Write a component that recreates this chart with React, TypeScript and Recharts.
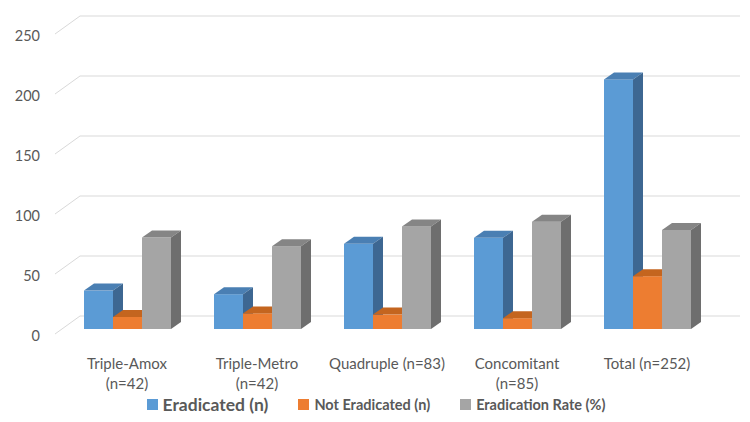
import React from 'react';
import { BarChart, Bar, XAxis, YAxis, CartesianGrid, Legend } from 'recharts';

const categories = ['Triple-Amox (n=42)', 'Triple-Metro (n=42)', 'Quadruple (n=83)', 'Concomitant (n=85)', 'Total (n=252)'];
const eradicated = [32, 29, 71, 76, 208];
const notEradicated = [10, 13, 12, 9, 44];
const eradicationRate = [76.2, 69.0, 85.5, 89.4, 82.5];
const yTicks = [0, 50, 100, 150, 200, 250];

const SERIES = [
  { key: 'eradicated', name: 'Eradicated (n)', front: '#5b9bd5', top: '#4a7fb3', side: '#3d6792', size: 17.5 },
  { key: 'notEradicated', name: 'Not Eradicated (n)', front: '#ed7d31', top: '#c4651f', side: '#b05a1c', size: 14.5 },
  { key: 'rate', name: 'Eradication Rate (%)', front: '#a5a5a5', top: '#858585', side: '#6e6e6e', size: 14.5 },
];

const data = categories.map((name, i) => ({
  name,
  eradicated: eradicated[i],
  notEradicated: notEradicated[i],
  rate: eradicationRate[i],
}));

const FONT = 'Lato, "Open Sans", sans-serif';
const DX = 10;
const DY = -7;

// front face + top + right side, to fake Excel's 3D columns
const Bar3D = (props: any) => {
  const { x, y, width, height, front, top, side } = props;
  if (!height || height <= 0) return null;
  return (
    <g>
      <rect x={x} y={y} width={width} height={height} fill={front} />
      <polygon
        points={`${x},${y} ${x + DX},${y + DY} ${x + width + DX},${y + DY} ${x + width},${y}`}
        fill={top}
      />
      <polygon
        points={`${x + width},${y} ${x + width + DX},${y + DY} ${x + width + DX},${y + height + DY} ${x + width},${y + height}`}
        fill={side}
      />
    </g>
  );
};

// back-wall gridline plus the diagonal running to the front edge
const GridLine3D = (props: any) => {
  const { x1, x2, y1, index } = props;
  return (
    <g key={`g-${index}`}>
      <line x1={x1 - 7} y1={y1 + 5} x2={x1 + 18} y2={y1 - 13} stroke="#d9d9d9" strokeWidth={1} />
      <line x1={x1 + 18} y1={y1 - 13} x2={x2 + 28} y2={y1 - 13} stroke="#d9d9d9" strokeWidth={1} />
    </g>
  );
};

const YTick = (props: any) => {
  const { y, payload } = props;
  return (
    <text x={40} y={y + 6} textAnchor="end" dominantBaseline="central" fill="#595959" fontSize={14.5} fontFamily={FONT}>
      {payload.value}
    </text>
  );
};

const XTick = (props: any) => {
  const { x, y, payload } = props;
  const label: string = payload.value;
  let lines = [label];
  if (label.length > 16) {
    const cut = label.lastIndexOf(' ');
    lines = [label.slice(0, cut), label.slice(cut + 1)];
  }
  return (
    <g>
      {lines.map((l, i) => (
        <text key={i} x={x} y={y + 26 + i * 20} textAnchor="middle" dominantBaseline="central" fill="#595959" fontSize={15} fontFamily={FONT}>
          {l}
        </text>
      ))}
    </g>
  );
};

const LegendContent = () => (
  <div style={{ display: 'flex', justifyContent: 'center', alignItems: 'center', height: 22, marginLeft: 40, fontFamily: FONT, fontWeight: 700, color: '#595959' }}>
    {SERIES.map(s => (
      <div key={s.key} style={{ display: 'flex', alignItems: 'center', margin: '0 15px' }}>
        <span style={{ width: 11, height: 11, background: s.front, marginRight: 5, display: 'inline-block' }} />
        <span style={{ fontSize: s.size }}>{s.name}</span>
      </div>
    ))}
  </div>
);

export default function App() {
  return (
    <div style={{ position: 'absolute', left: 0, top: 0, width: 750, height: 422, background: '#fff' }}>
      <BarChart
        width={750}
        height={422}
        data={data}
        margin={{ top: 29, right: 38, left: 0, bottom: 0 }}
        barSize={29}
        barGap={0}
      >
        <CartesianGrid vertical={false} horizontal={GridLine3D} />
        <XAxis dataKey="name" height={64} axisLine={false} tickLine={false} interval={0} tick={XTick} />
        <YAxis width={62} domain={[0, 250]} ticks={yTicks} axisLine={false} tickLine={false} tick={YTick} />
        <Legend verticalAlign="bottom" height={29} content={LegendContent} />
        {SERIES.map(s => (
          <Bar
            key={s.key}
            dataKey={s.key}
            name={s.name}
            fill={s.front}
            isAnimationActive={false}
            shape={(p: any) => <Bar3D {...p} front={s.front} top={s.top} side={s.side} />}
          />
        ))}
      </BarChart>
    </div>
  );
}
